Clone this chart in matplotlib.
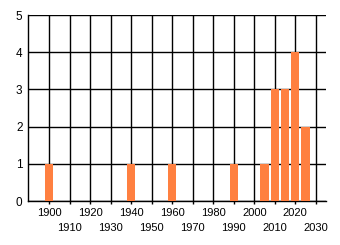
import matplotlib
matplotlib.use("Agg")
import matplotlib.pyplot as plt

years = [1900, 1940, 1960, 1990, 2005, 2010, 2015, 2020, 2025]
counts = [1, 1, 1, 1, 1, 3, 3, 4, 2]
major_ticks = [1900, 1920, 1940, 1960, 1980, 2000, 2020]
minor_ticks = [1910, 1930, 1950, 1970, 1990, 2010, 2030]
y_ticks = [0, 1, 2, 3, 4, 5]

plt.rcParams['font.family'] = ['Liberation Sans', 'DejaVu Sans']

fig = plt.figure(figsize=(3.4, 2.45), dpi=100)
ax = fig.add_axes([28/340, 1-201/245, (326-28)/340, (201-15)/245])
ax.set_axisbelow(True)
ax.bar(years, counts, width=4, color='#FF8040', zorder=3)

ax.set_xlim(1889.6, 2035)
ax.set_ylim(0, 5)
ax.set_xticks(major_ticks, [str(t) for t in major_ticks])
ax.set_xticks(minor_ticks, [str(t) for t in minor_ticks], minor=True)
ax.set_yticks(y_ticks, [str(t) for t in y_ticks])

ax.grid(True, which='both', axis='x', color='black', linewidth=1.0)
ax.grid(True, which='major', axis='y', color='black', linewidth=1.0)

ax.tick_params(axis='x', which='major', length=2.5, width=1, pad=2.5, labelsize=8, colors='black')
ax.tick_params(axis='x', which='minor', length=2.5, width=1, pad=13, labelsize=8, colors='black')
ax.tick_params(axis='y', length=0, pad=4, labelsize=8.5, colors='black')

for s in ['top', 'right']:
    ax.spines[s].set_visible(False)
for s in ['left', 'bottom']:
    ax.spines[s].set_color('black')
    ax.spines[s].set_linewidth(1.0)

fig.savefig('out.png', dpi=100)
